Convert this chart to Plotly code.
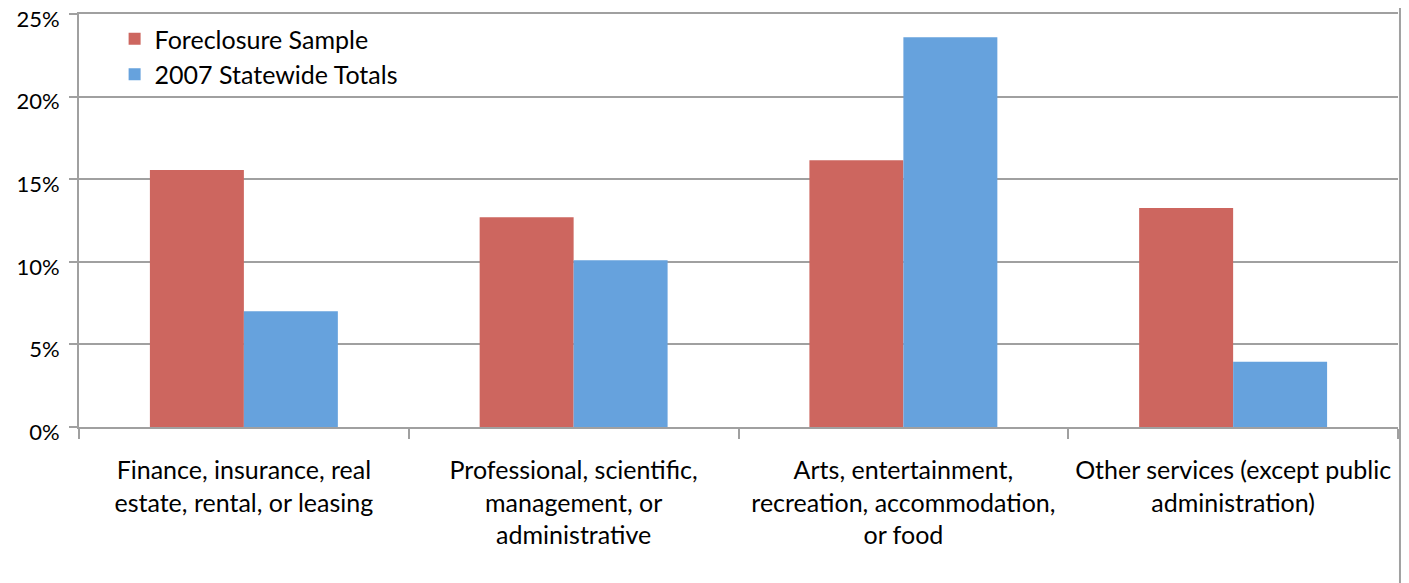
import plotly.graph_objects as go

categories = [
    "Finance, insurance, real<br>estate, rental, or leasing",
    "Professional, scientific,<br>management, or<br>administrative",
    "Arts, entertainment,<br>recreation, accommodation,<br>or food",
    "Other services (except public<br>administration)",
]
foreclosure_sample = [15.55, 12.7, 16.15, 13.25]
statewide_2007 = [7.0, 10.1, 23.6, 3.95]
series_names = ["Foreclosure Sample", "2007 Statewide Totals"]
y_ticks = [0, 5, 10, 15, 20, 25]
y_tick_labels = ["0%", "5%", "10%", "15%", "20%", "25%"]

FONT = "Lato"
FS = 25
GRID = "#a0a0a0"

fig = go.Figure()
fig.add_trace(go.Bar(x=categories, y=foreclosure_sample, name=series_names[0],
                     marker=dict(color="#cd665f", line=dict(width=0))))
fig.add_trace(go.Bar(x=categories, y=statewide_2007, name=series_names[1],
                     marker=dict(color="#66a2dd", line=dict(width=0))))

# page body has an 8px margin, so the figure is offset by 8px
W, H = 1401, 575
ml, mr, mt, mb = 71, 11, 6, 156
ph = H - mt - mb

fig.update_layout(
    width=W, height=H,
    margin=dict(l=ml, r=mr, t=mt, b=mb, pad=0, autoexpand=False),
    paper_bgcolor="white", plot_bgcolor="white",
    barmode="group", bargap=0.43, bargroupgap=0,
    font=dict(family=FONT, size=FS, color="#000000"),
    showlegend=True,
    legend=dict(x=0.027, y=0.995, xanchor="left", yanchor="top",
                bgcolor="rgba(0,0,0,0)", font=dict(size=FS, family=FONT),
                itemwidth=30, tracegroupgap=0),
    xaxis=dict(
        type="category", tickson="boundaries", automargin=False,
        ticks="outside", ticklen=10, tickcolor=GRID, tickwidth=2,
        showline=True, linecolor=GRID, linewidth=2, mirror=True,
        showgrid=False, tickfont=dict(size=FS, family=FONT),
        ticklabelstandoff=20,
    ),
    yaxis=dict(
        range=[0, 25], tickvals=y_ticks, ticktext=y_tick_labels, automargin=False,
        ticks="outside", ticklen=8, tickcolor=GRID, tickwidth=2,
        showline=True, linecolor=GRID, linewidth=2,
        showgrid=True, gridcolor=GRID, gridwidth=2,
        zeroline=False, tickfont=dict(size=22, family=FONT),
        ticklabelstandoff=5, ticklabeloverflow="allow", ticklabelshift=5,
    ),
    shapes=[dict(type="line", xref="paper", yref="paper",
                 x0=1.0015, x1=1.0015, y0=-mb / ph, y1=1 + mt / ph,
                 line=dict(color=GRID, width=2))],
)

fig.write_html("out.html")
